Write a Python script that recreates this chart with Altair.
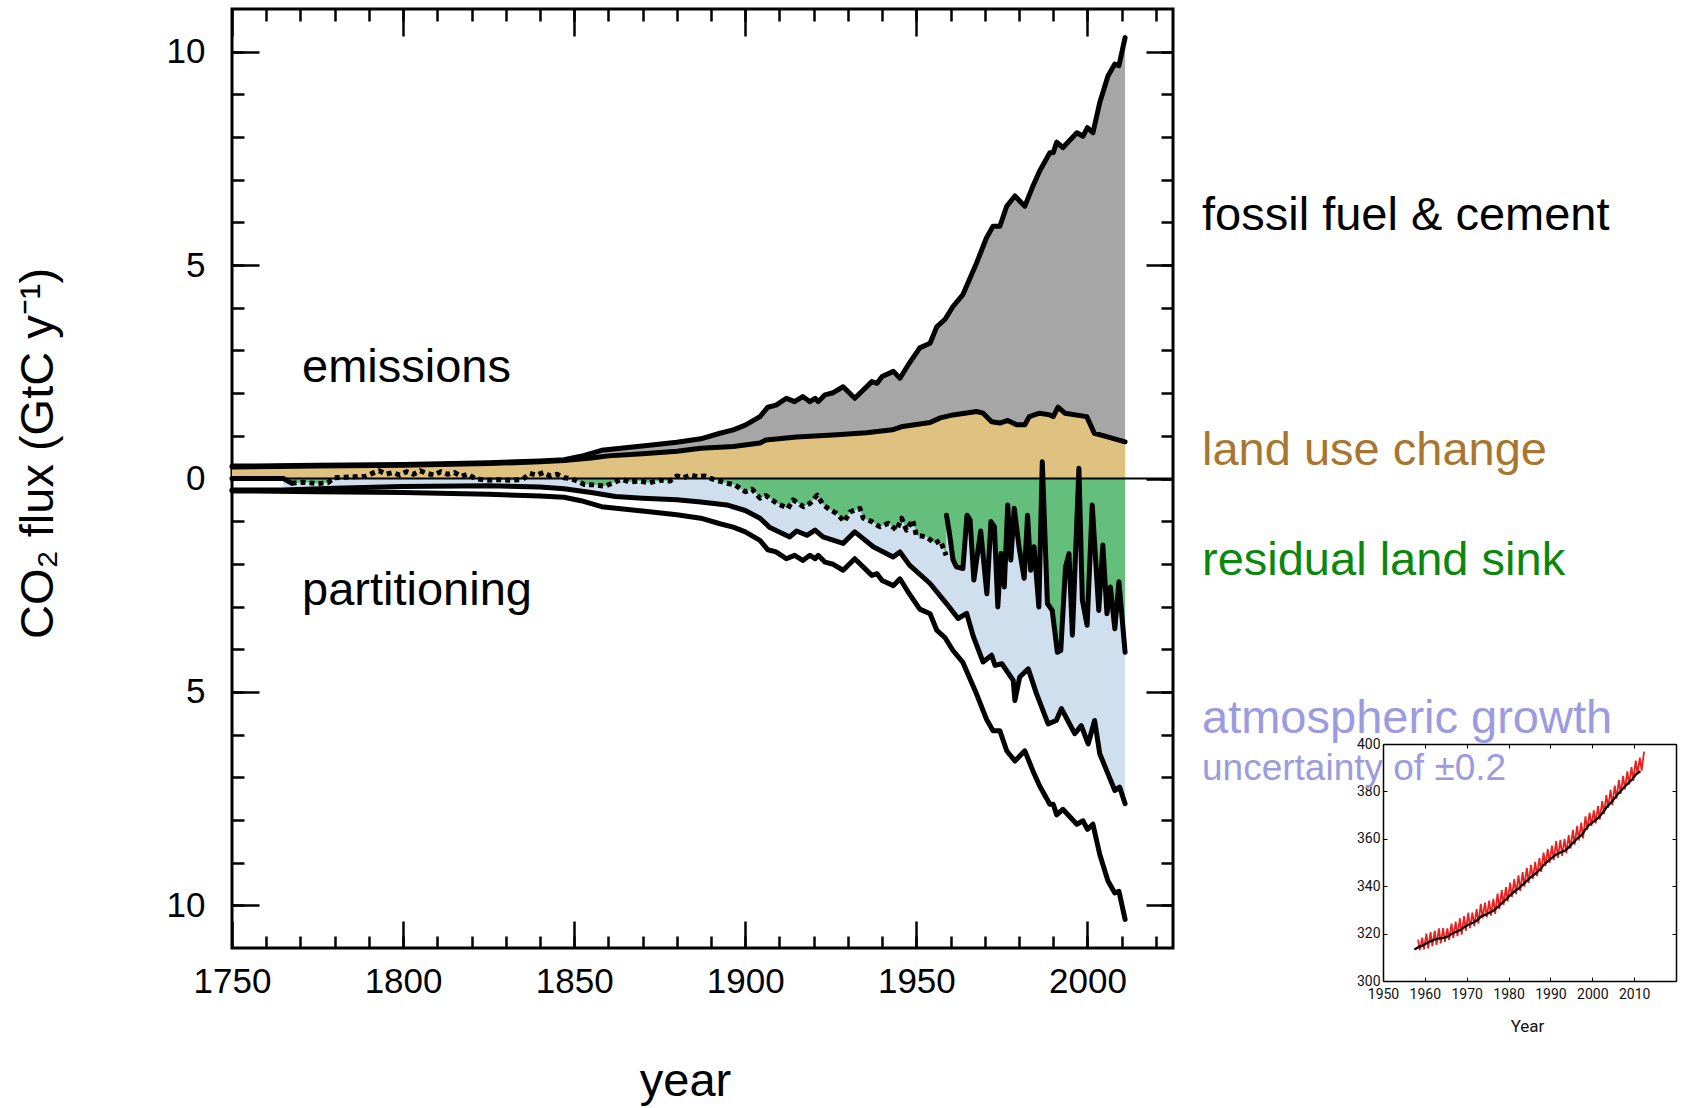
import altair as alt
import pandas as pd

# ---------------- data ----------------
# total emissions (fossil fuel & cement + land use change), GtC/yr
total_years = [1750, 1775, 1800, 1825, 1840, 1847, 1852, 1858, 1865, 1872, 1880, 1887,
               1892.6, 1896.5, 1900, 1904.3, 1906.6, 1909, 1912, 1914.4, 1916.8, 1918.9,
               1920.4, 1921.3, 1923.3, 1925.7, 1928.6, 1932, 1937, 1938.5, 1940, 1943.3,
               1945.2, 1947.6, 1951, 1954, 1956, 1958.3, 1960.7, 1963.6, 1967.6, 1970.5,
               1972.4, 1974.4, 1976.4, 1978.8, 1981.7, 1984, 1986, 1989, 1990, 1991,
               1992.8, 1996.9, 1998.7, 2000, 2001.6, 2003.6, 2006, 2008, 2009.2, 2011]
total_vals = [0.29, 0.31, 0.33, 0.37, 0.41, 0.44, 0.52, 0.66, 0.72, 0.78, 0.85, 0.93,
              1.06, 1.14, 1.25, 1.45, 1.67, 1.72, 1.88, 1.80, 1.92, 1.80,
              1.88, 1.80, 1.96, 2.01, 2.15, 1.88, 2.27, 2.23, 2.39, 2.51,
              2.35, 2.66, 3.06, 3.17, 3.56, 3.72, 4.03, 4.31, 5.05, 5.64,
              5.91, 5.91, 6.38, 6.62, 6.38, 6.84, 7.20, 7.63, 7.63, 7.88,
              7.75, 8.10, 8.02, 8.22, 8.10, 8.81, 9.43, 9.71, 9.67, 10.33]

# land use change emissions
luc_years = [1750, 1775, 1800, 1825, 1840, 1847, 1855, 1860, 1870, 1880, 1887, 1896.5,
             1904.3, 1906, 1915, 1925.6, 1935.4, 1943, 1946, 1954, 1957, 1960.7, 1967.6,
             1969.5, 1972, 1974.4, 1976.7, 1979.3, 1981.7, 1983, 1986, 1989, 1990,
             1991.4, 1993.4, 1999.8, 2002, 2005.6, 2011]
luc_vals = [0.27, 0.29, 0.31, 0.35, 0.39, 0.42, 0.48, 0.53, 0.58, 0.64, 0.71, 0.75,
            0.83, 0.90, 0.97, 1.02, 1.07, 1.14, 1.22, 1.31, 1.42, 1.49, 1.57,
            1.53, 1.33, 1.30, 1.36, 1.26, 1.26, 1.45, 1.53, 1.49, 1.45,
            1.67, 1.53, 1.45, 1.06, 0.98, 0.86]

# lower edge of atmospheric growth (land sink + atmospheric growth), negative
sec_years = [1750, 1765, 1780, 1800, 1825, 1840, 1847, 1855, 1862, 1870, 1880, 1887,
             1894.6, 1900, 1904.3, 1907.2, 1913, 1915, 1918, 1920.4, 1922.7, 1928.6,
             1932, 1937.4, 1943.2, 1945.2, 1948, 1954, 1958.8, 1962.2, 1964.7, 1966.6,
             1969.5, 1972, 1973, 1975, 1978.3, 1978.8, 1980.2, 1982.7, 1985.1, 1988.5,
             1990.9, 1992.4, 1996.3, 1998.2, 2000.2, 2002.1, 2003.6, 2006, 2008,
             2009.4, 2011]
sec_vals = [-0.27, -0.27, -0.23, -0.19, -0.17, -0.20, -0.24, -0.33, -0.42, -0.46, -0.50, -0.55,
            -0.62, -0.75, -0.93, -1.15, -1.37, -1.23, -1.33, -1.21, -1.37, -1.52,
            -1.25, -1.60, -1.84, -1.72, -2.03, -2.46, -2.93, -3.28, -3.16, -3.69,
            -4.30, -4.14, -4.38, -4.34, -4.73, -5.20, -4.65, -4.46, -5.04, -5.75,
            -5.67, -5.39, -5.98, -5.79, -6.22, -5.67, -6.45, -6.92, -7.31,
            -7.23, -7.62]

# residual land sink (negative = uptake)
land_early_years = [1750, 1765, 1767.4]
land_early_vals = [0.0, 0.0, -0.11]

land_dot_years = [1767.4, 1771, 1775, 1778, 1780, 1783, 1786, 1789, 1791, 1793, 1795, 1797,
                  1799, 1801, 1803, 1805, 1807, 1809, 1811, 1813, 1815, 1817, 1819, 1821,
                  1824, 1828, 1832, 1835, 1837, 1839, 1841, 1843, 1845, 1847, 1849, 1851,
                  1853, 1856, 1859, 1862, 1864, 1866, 1869, 1872, 1875, 1878, 1880, 1882,
                  1884, 1886, 1888, 1890, 1892, 1894, 1897, 1900, 1902, 1904.3, 1906,
                  1909.2, 1912.5, 1914, 1917, 1919, 1921, 1922.8, 1924.2, 1926.7, 1929,
                  1930.6, 1933.5, 1934.5, 1937, 1939.3, 1941.8, 1944.2, 1945.7, 1947.1,
                  1948.9, 1950, 1953, 1955.4, 1957, 1958.7]
land_dot_vals = [-0.11, -0.09, -0.12, -0.10, 0.02, 0.03, 0.04, 0.05, 0.12, 0.18, 0.10, 0.14,
                 0.08, 0.16, 0.10, 0.18, 0.12, 0.08, 0.16, 0.10, 0.14, 0.05, 0.10, 0.00,
                 -0.04, -0.03, -0.04, -0.02, 0.12, 0.08, 0.14, 0.06, 0.10, 0.02, 0.00, -0.06,
                 -0.14, -0.15, -0.18, -0.08, -0.02, -0.08, -0.06, -0.10, -0.04, -0.06, 0.06, 0.02,
                 0.08, 0.04, 0.06, 0.00, -0.05, -0.10, -0.15, -0.31, -0.25, -0.46, -0.40,
                 -0.58, -0.70, -0.50, -0.66, -0.58, -0.39, -0.62, -0.70, -0.82, -1.01,
                 -0.78, -0.70, -0.93, -1.01, -1.13, -1.05, -1.21, -0.93, -1.21,
                 -0.97, -1.33, -1.37, -1.52, -1.45, -1.80]

land_obs_years = [1958.8, 1959.7, 1960.7, 1961.7, 1963.6, 1964.8, 1965.7, 1966.8, 1968.8,
                  1970.6, 1971.8, 1972.8, 1973.8, 1974.7, 1975.7, 1976.7, 1977.6, 1978.6,
                  1980.0, 1981.5, 1982.5, 1983.4, 1984.4, 1985.8, 1986.8, 1988.3, 1989.7,
                  1991.2, 1992.2, 1993.6, 1994.6, 1995.6, 1997.5, 1998.5, 1999.9, 2001.4,
                  2003.3, 2004.5, 2005.7, 2006.7, 2008.0, 2009.2, 2011.0]
land_obs_vals = [-0.86, -1.30, -1.90, -2.07, -2.11, -0.86, -0.97, -2.38, -1.23,
                 -2.70, -1.01, -1.13, -3.01, -1.76, -2.54, -0.62, -1.91, -0.70,
                 -1.60, -2.34, -0.86, -2.15, -1.60, -3.01, 0.39, -2.93, -3.09,
                 -4.07, -4.03, -2.07, -1.76, -3.67, 0.24, -2.85, -3.44, -0.62,
                 -3.09, -1.56, -3.17, -2.54, -3.52, -2.42, -4.07]

# inset: atmospheric CO2 (ppm)
ppm_years = list(range(1958, 2013))
ppm_peak = [317.5, 318.3, 320.0, 320.6, 321.2, 322.2, 322.3, 322.2, 324.2, 325.0,
            326.4, 327.4, 328.8, 328.9, 330.3, 332.5, 333.1, 333.9, 334.7, 336.9,
            338.3, 339.6, 341.5, 343.0, 344.6, 345.9, 347.7, 349.0, 350.3, 351.9,
            354.2, 355.7, 357.1, 359.0, 359.6, 360.0, 361.6, 363.8, 365.4, 366.8,
            369.5, 371.0, 372.0, 373.8, 375.9, 378.4, 380.6, 382.4, 384.9, 386.6,
            388.5, 390.2, 393.0, 394.2, 396.8]
ppm_trough = [313.0, 313.3, 313.8, 314.7, 315.2, 315.9, 316.5, 317.3, 318.2, 318.9,
              319.6, 321.2, 322.3, 323.1, 324.2, 326.4, 326.9, 327.6, 328.3, 330.3,
              332.0, 333.6, 335.4, 336.7, 338.0, 339.8, 341.4, 343.1, 344.2, 346.0,
              348.5, 349.8, 351.0, 352.0, 352.8, 353.9, 355.8, 357.5, 359.3, 360.2,
              363.8, 365.4, 366.5, 368.1, 370.5, 373.0, 374.2, 377.0, 379.0, 380.9,
              382.9, 384.4, 387.3, 388.8]
bk_years = list(range(1957, 2012))
bk_vals = [313.3, 314.3, 315.0, 316.0, 316.9, 317.6, 318.0, 318.2, 318.8, 320.0,
           320.8, 321.5, 322.8, 323.8, 324.6, 325.6, 327.3, 328.0, 328.9, 329.8,
           331.4, 333.0, 334.6, 336.4, 337.9, 339.2, 340.8, 342.5, 344.0, 345.4,
           347.0, 349.2, 350.8, 352.2, 353.5, 354.3, 355.0, 356.6, 358.5, 360.3,
           361.6, 364.3, 366.2, 367.5, 369.0, 371.0, 373.5, 375.3, 377.5, 379.6,
           381.5, 383.3, 385.0, 387.3, 388.5]

# tick values
x_major = [1750, 1800, 1850, 1900, 1950, 2000]
x_minor = list(range(1760, 2030, 10))
y_major = [-10, -5, 0, 5, 10]
y_minor = list(range(-10, 11))
inset_x = [1950, 1960, 1970, 1980, 1990, 2000, 2010]
inset_x_ticks = list(range(1950, 2021, 10))
inset_y = [300, 320, 340, 360, 380, 400]

# ---------------- build ----------------
W, H = 941, 939
F = "Liberation Sans"
NF = "Liberation Sans Narrow, Roboto, Liberation Sans"

XS = alt.Scale(domain=[1750, 2025], nice=False, zero=False)
YS = alt.Scale(domain=[-11, 11], nice=False, zero=False)


def frame(years, vals):
    return pd.DataFrame({"year": years, "v": vals})


tot = frame(total_years, total_vals)
luc = frame(luc_years, luc_vals)
sec = frame(sec_years, sec_vals)
land_all = frame(land_dot_years + land_obs_years, land_dot_vals + land_obs_vals)
land_early = frame(land_early_years, land_early_vals)
land_dot = frame(land_dot_years, land_dot_vals)
land_obs = frame(land_obs_years, land_obs_vals)


def X(axis=None):
    return alt.X("year:Q", scale=XS, axis=axis)


def Y(axis=None, field="v:Q"):
    return alt.Y(field, scale=YS, axis=axis)


def area(d, color):
    return alt.Chart(d).mark_area(color=color, opacity=1).encode(x=X(), y=Y(), y2=alt.datum(0))


lb_area = alt.Chart(sec).transform_filter("datum.year >= 1765").mark_area(
    color="#cfdfee", opacity=1).encode(x=X(), y=Y(), y2=alt.datum(0))
green_area = area(land_all, "#64be7c")
grey_area = area(tot, "#a6a6a6")
tan_area = area(luc, "#dfc27f")

zero_rule = alt.Chart(pd.DataFrame({"v": [0]})).mark_rule(
    color="black", strokeWidth=2).encode(y=Y())


def line(d, dash=None, cap="round"):
    kw = dict(color="black", strokeWidth=5, strokeJoin="round", strokeCap=cap)
    if dash is not None:
        kw["strokeDash"] = dash
    return alt.Chart(d).mark_line(**kw).encode(x=X(), y=Y())


luc_line = line(luc)
tot_line = line(tot)
neg_line = alt.Chart(tot).transform_calculate(nv="-datum.v").mark_line(
    color="black", strokeWidth=5, strokeJoin="round", strokeCap="round").encode(
    x=X(), y=Y(field="nv:Q"))
sec_line = line(sec)
early_line = line(land_early)
dot_line = line(land_dot, dash=[5, 4], cap="butt")
obs_line = line(land_obs)


def tick_axis(orient, vals, size, offset, domain=False, width=2.5):
    return alt.Axis(orient=orient, values=vals, tickSize=size, tickWidth=width,
                    tickColor="black", labels=False, domain=domain, domainColor="black",
                    domainWidth=1.5, grid=False, title=None, offset=offset)


def carrier(xa, ya):
    return alt.Chart(tot).mark_point(opacity=0).encode(x=X(xa), y=Y(ya))


ax_x_lab = alt.Axis(orient="bottom", values=x_major, ticks=False, domain=False, grid=False,
                    labelFont=F, labelFontSize=35, labelColor="black", labelPadding=16,
                    labelFlush=False, format="d", title="year", titleFont=F,
                    titleFontSize=47, titleFontWeight="normal", titleColor="black",
                    titleX=453, titleY=147, titleAlign="center", titleBaseline="alphabetic")
ax_y_lab = alt.Axis(orient="left", values=y_major, ticks=False, domain=False, grid=False,
                    labelFont=F, labelFontSize=35, labelColor="black", labelPadding=27,
                    labelFlush=False, labelExpr="format(abs(datum.value), 'd')",
                    title="CO₂ flux (GtC y⁻¹)", titleFont=F, titleFontSize=47,
                    titleFontWeight="normal", titleColor="black", titleX=-194, titleY=444,
                    titleAngle=-90, titleAlign="center", titleBaseline="middle")

c1 = carrier(ax_x_lab, ax_y_lab)
c2 = carrier(tick_axis("top", x_major, 27, -H), tick_axis("right", y_major, 27, -W))
c3 = carrier(tick_axis("top", x_minor, 12, -H), tick_axis("right", y_minor, 12, -W))
c4 = carrier(tick_axis("bottom", x_major, 27, -H), tick_axis("left", y_major, 27, -W))
c5 = carrier(tick_axis("bottom", x_minor, 12, -H), tick_axis("left", y_minor, 12, -W))


def label(text, x, y, color, size=47):
    return alt.Chart(pd.DataFrame({"k": [0]})).mark_text(
        text=text, font=F, fontSize=size, color=color, align="left",
        baseline="alphabetic").encode(x=alt.value(x), y=alt.value(y))


texts = [
    label("emissions", 70, 373, "black"),
    label("partitioning", 70, 596, "black"),
    label("fossil fuel & cement", 970, 221, "black"),
    label("land use change", 970, 456, "#a8762f"),
    label("residual land sink", 970, 566, "#0b870b"),
    label("atmospheric growth", 970, 724, "#9b9be0"),
]
uncert = label("uncertainty of ±0.2", 970, 771, "#9b9be0", size=37)

# ---------------- inset ----------------
IXS = alt.Scale(domain=[1950, 2020], range=[1151, 1444], nice=False, zero=False)
IYS = alt.Scale(domain=[300, 400], range=[972, 735], nice=False, zero=False)

red_t, red_v = [], []
for i, yr in enumerate(ppm_years):
    red_t.append(yr + 0.37)
    red_v.append(ppm_peak[i])
    if i < len(ppm_trough):
        red_t.append(yr + 0.79)
        red_v.append(ppm_trough[i])
red = pd.DataFrame({"t": red_t, "ppm": red_v})
blk = pd.DataFrame({"t": [y + 0.5 for y in bk_years], "ppm": bk_vals})


def IX(axis=None):
    return alt.X("t:Q", scale=IXS, axis=axis)


def IY(axis=None):
    return alt.Y("ppm:Q", scale=IYS, axis=axis)


red_line = alt.Chart(red).mark_line(color="#e8211e", strokeWidth=1.8).encode(x=IX(), y=IY())
blk_line = alt.Chart(blk).mark_line(color="black", strokeWidth=2.2).encode(x=IX(), y=IY())


def icarrier(xa, ya):
    return alt.Chart(blk).mark_point(opacity=0).encode(x=IX(xa), y=IY(ya))


ia_x = alt.Axis(orient="bottom", offset=33, values=inset_x, ticks=False, domain=False,
                grid=False, labelFont=NF, labelFontSize=14, labelColor="#111111",
                labelPadding=6, labelFlush=False, format="d", title="Year", titleFont=NF,
                titleFontSize=17, titleFontWeight="normal", titleColor="#111111",
                titleX=1295, titleY=50, titleAlign="center", titleBaseline="alphabetic")
ia_y = alt.Axis(orient="left", offset=-1151, values=inset_y, ticks=False, domain=False,
                grid=False, labelFont=NF, labelFontSize=14, labelColor="#111111",
                labelPadding=3, labelFlush=False, format="d", title=None)
ic1 = icarrier(ia_x, ia_y)
ic2 = icarrier(tick_axis("top", inset_x_ticks, 4, -972, domain=True, width=1),
               tick_axis("right", inset_y, 4, 210, domain=True, width=1))
ic3 = icarrier(tick_axis("bottom", inset_x_ticks, 4, -204, domain=True, width=1),
               tick_axis("left", inset_y, 4, -1444, domain=True, width=1))

layers = [lb_area, green_area, grey_area, tan_area, zero_rule,
          luc_line, tot_line, neg_line, sec_line, early_line, dot_line, obs_line,
          c1, c2, c3, c4, c5] + texts + [red_line, blk_line, ic1, ic2, ic3, uncert]

chart = alt.layer(*layers).resolve_scale(
    x="independent", y="independent").resolve_axis(
    x="independent", y="independent").properties(
    width=W, height=H,
    autosize=alt.AutoSizeParams(type="none"),
    padding={"left": 232, "top": 9, "right": 510, "bottom": 160},
    background="white",
).configure_view(stroke="black", strokeWidth=3)

chart.save("out.html", embed_options={"renderer": "svg", "actions": False})
